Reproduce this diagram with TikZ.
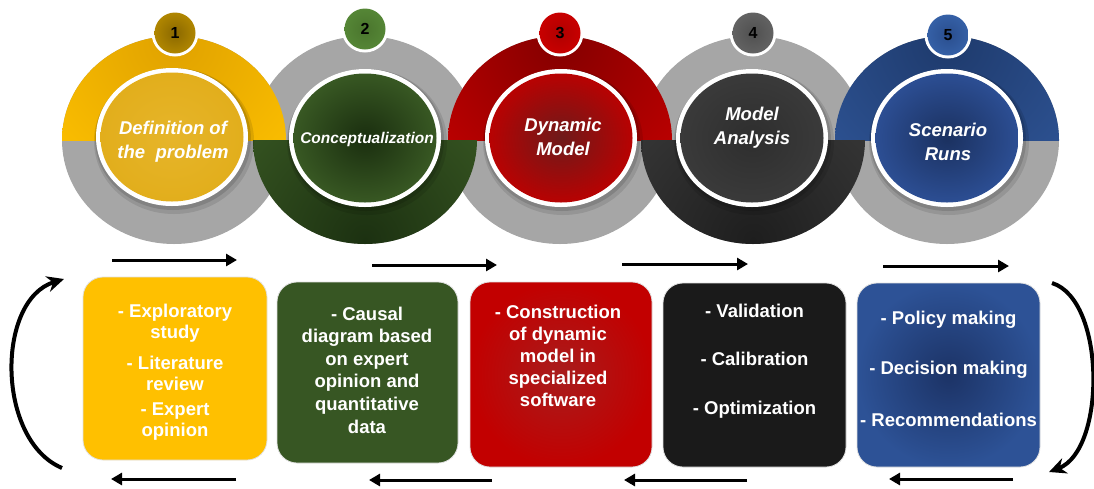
\documentclass[tikz,border=0pt]{standalone}
\usepackage{fontspec}
\setmainfont{Liberation Sans}
\usetikzlibrary{arrows.meta}
\definecolor{ringgray}{HTML}{A6A6A6}
\definecolor{ringYin}{HTML}{E0A200}
\definecolor{ringYout}{HTML}{FFC200}
\definecolor{ringGin}{HTML}{1C3111}
\definecolor{ringGout}{HTML}{3A5A24}
\definecolor{ringRin}{HTML}{840000}
\definecolor{ringRout}{HTML}{C40000}
\definecolor{ringKin}{HTML}{1E1E1E}
\definecolor{ringKout}{HTML}{3A3A3A}
\definecolor{ringBin}{HTML}{1E3A6C}
\definecolor{ringBout}{HTML}{2F5597}
\definecolor{inYin}{HTML}{E6B52A}
\definecolor{inYout}{HTML}{E2AE1C}
\definecolor{inGin}{HTML}{1A2E0F}
\definecolor{inGout}{HTML}{385823}
\definecolor{inRin}{HTML}{6E1A1A}
\definecolor{inRout}{HTML}{B80202}
\definecolor{inKin}{HTML}{2E2E2E}
\definecolor{inKout}{HTML}{3A3A3A}
\definecolor{inBin}{HTML}{1B3160}
\definecolor{inBout}{HTML}{2C4E93}
\definecolor{bdYin}{HTML}{8A6800}
\definecolor{bdYout}{HTML}{B08600}
\definecolor{bdGin}{HTML}{4A752D}
\definecolor{bdGout}{HTML}{558636}
\definecolor{bdRin}{HTML}{B00000}
\definecolor{bdRout}{HTML}{C80000}
\definecolor{bdKin}{HTML}{505050}
\definecolor{bdKout}{HTML}{626262}
\definecolor{bdBin}{HTML}{2A4E8E}
\definecolor{bdBout}{HTML}{3560A6}
\definecolor{boxY}{HTML}{FFC000}
\definecolor{boxG}{HTML}{375623}
\definecolor{boxRin}{HTML}{A81C1C}
\definecolor{boxRout}{HTML}{C20000}
\definecolor{boxK}{HTML}{1A1A1A}
\definecolor{boxBin}{HTML}{1C3366}
\definecolor{boxBout}{HTML}{2D5296}
\begin{document}
\begin{tikzpicture}[x=1pt,y=-1pt,
  innerlabel/.style={text=white, inner sep=0pt, font=\fontsize{18.5}{24}\selectfont\bfseries\itshape, align=center},
  badgenum/.style={inner sep=0pt, font=\fontsize{16}{16}\selectfont\bfseries, text=black},
  boxtext/.style={text=white, inner sep=0pt, align=center},
  stepbox/.style={rounded corners=20pt, draw=black!12, line width=0.8pt, inner sep=0pt},
  flowarrow/.style={line width=3pt, -{Triangle[length=11pt,width=12pt]}},
  looparrow/.style={line width=4pt, -{Stealth[length=17pt,width=16pt]}}]

\useasboundingbox (0,0) rectangle (1094,488);

% grey rings
\foreach \cx in {174,365,560,753,947}
  \fill[ringgray] (\cx,140) ellipse[x radius=112,y radius=104];

% coloured upper halves
\foreach \cx/\ci/\co in {174/ringYin/ringYout, 560/ringRin/ringRout, 947/ringBin/ringBout}{
  \begin{scope}
    \clip (\cx-115,140) rectangle (\cx+115,30);
    \clip (\cx,140) ellipse[x radius=112,y radius=104];
    \shade[inner color=\ci, outer color=\co] (\cx,42) circle[radius=180];
  \end{scope}
}
% coloured lower halves
\foreach \cx/\ci/\co in {365/ringGin/ringGout, 753/ringKin/ringKout}{
  \begin{scope}
    \clip (\cx-115,140) rectangle (\cx+115,250);
    \clip (\cx,140) ellipse[x radius=112,y radius=104];
    \shade[inner color=\ci, outer color=\co] (\cx,240) circle[radius=190];
  \end{scope}
}

% inner discs
\foreach \cx/\cy/\ci/\co in {172/137/inYin/inYout, 365/138/inGin/inGout, 561/138/inRin/inRout, 752/138/inKin/inKout, 947/138/inBin/inBout}{
  \fill[black,opacity=0.10] (\cx+2,\cy+4) ellipse[x radius=80,y radius=73];
  \fill[black,opacity=0.12] (\cx+1,\cy+2) ellipse[x radius=78,y radius=71];
  \fill[white] (\cx,\cy) ellipse[x radius=76,y radius=69];
  \shade[inner color=\ci, outer color=\co] (\cx,\cy) ellipse[x radius=71.5,y radius=64.5];
}

% circle labels
\node[innerlabel] (l1) at (173,142) {Definition of\\the~ problem};
\node[innerlabel, font=\fontsize{15.5}{18}\selectfont\bfseries\itshape] (l2) at (367,139) {Conceptualization};
\node[innerlabel] (l3) at (563,137) {Dynamic\\Model};
\node[innerlabel] (l4) at (752,128) {Model\\Analysis};
\node[innerlabel] (l5) at (948,142) {Scenario\\Runs};

% badges
\foreach \n/\cx/\cy/\ci/\co in {1/175/33/bdYin/bdYout, 2/365/29/bdGin/bdGout, 3/560/33/bdRin/bdRout, 4/753/33/bdKin/bdKout, 5/948/35/bdBin/bdBout}{
  \fill[white] (\cx,\cy) circle[radius=23.5];
  \shade[inner color=\ci, outer color=\co] (\cx,\cy) circle[radius=20.5];
  \node[badgenum] (b\n) at (\cx,\cy) {\n};
}

% boxes
\node[stepbox, fill=boxY, minimum width=184pt, minimum height=183pt] (box1) at (175,368.5) {};
\node[stepbox, fill=boxG, minimum width=181pt, minimum height=181pt] (box2) at (367.5,372.5) {};
\node[stepbox, inner color=boxRin, outer color=boxRout, minimum width=182pt, minimum height=185pt] (box3) at (561,374.5) {};
\node[stepbox, fill=boxK, minimum width=183pt, minimum height=184pt] (box4) at (754.5,375) {};
\node[stepbox, inner color=boxBin, outer color=boxBout, minimum width=183pt, minimum height=184pt] (box5) at (948.5,375) {};

% box texts
\node[boxtext, font=\fontsize{18.5}{21.5}\selectfont\bfseries] (t1) at (175,372)
  {- Exploratory\\study\\[9pt]- Literature\\review\\[3pt]- Expert\\opinion};
\node[boxtext, font=\fontsize{18.5}{22.6}\selectfont\bfseries] (t2) at (367,370)
  {- Causal\\diagram based\\on expert\\opinion and\\quantitative\\data};
\node[boxtext, font=\fontsize{18.5}{22}\selectfont\bfseries] (t3) at (558,356)
  {- Construction\\of dynamic\\model in\\specialized\\software};
\node[boxtext, font=\fontsize{18.5}{22}\selectfont\bfseries] (t4) at (754.5,361)
  {- Validation\\[26.5pt]- Calibration\\[27pt]- Optimization};
\node[boxtext, font=\fontsize{18.5}{22}\selectfont\bfseries] (t5) at (948.5,369)
  {- Policy making\\[28pt]- Decision making\\[30pt]- Recommendations};

% straight arrows
\coordinate (a1s) at (112,260);  \coordinate (a1e) at (237,260);
\coordinate (a2s) at (372,265);  \coordinate (a2e) at (497,265);
\coordinate (a3s) at (622,264);  \coordinate (a3e) at (748,264);
\coordinate (a4s) at (883,266);  \coordinate (a4e) at (1009,266);
\coordinate (r1s) at (236,479);  \coordinate (r1e) at (111,479);
\coordinate (r2s) at (492,480);  \coordinate (r2e) at (369,480);
\coordinate (r3s) at (747,480);  \coordinate (r3e) at (624,480);
\coordinate (r4s) at (1013,479); \coordinate (r4e) at (889,479);
\foreach \p in {a1,a2,a3,a4,r1,r2,r3,r4}
  \draw[flowarrow] (\p s) -- (\p e);

% loop arrows
\coordinate (lb) at (62,468);  \coordinate (lt) at (64,279);
\coordinate (rt) at (1052,283); \coordinate (rb) at (1049,472);
\draw[looparrow] (lb) .. controls (-4,440) and (-4,300) .. (lt);
\draw[looparrow] (rt) .. controls (1106,300) and (1106,450) .. (rb);
\end{tikzpicture}
\end{document}
